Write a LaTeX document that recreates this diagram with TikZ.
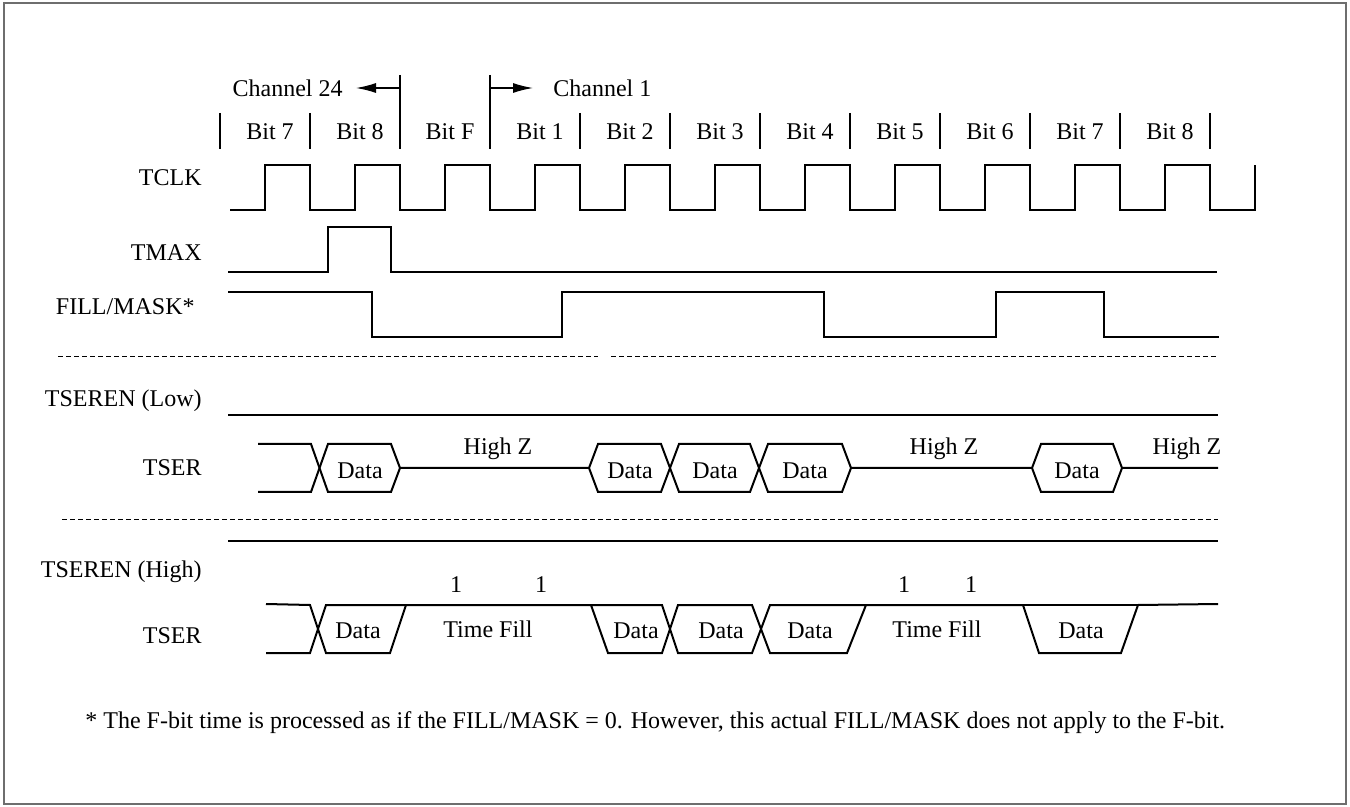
\documentclass[tikz,border=0pt]{standalone}
\usepackage{fontspec}
\setmainfont{Liberation Serif}
\usetikzlibrary{arrows.meta,positioning,calc}
\definecolor{framegray}{RGB}{110,110,110}
\tikzset{
  wave/.style={line width=1pt,line join=miter},
  bittick/.style={line width=0.7pt},
  sepline/.style={line width=0.5pt,dash pattern=on 2.5pt off 1.5pt},
  siglabel/.style={anchor=base east,inner sep=0pt},
  wavetext/.style={anchor=base,inner sep=0pt},
  chanarrow/.style={-{Latex[length=10pt,width=5pt]},line width=0.7pt},
}

\begin{document}
\begin{tikzpicture}[x=0.5pt,y=-0.5pt,font=\fontsize{12}{14}\selectfont]
  \useasboundingbox (0,0) rectangle (1350,807);
  \draw[framegray,line width=1pt] (4,3) rectangle (1346,804);

  % bit slots and channel markers
  \foreach \x in {220,310,580,670,760,850,940,1030,1120,1210}
    \draw[bittick] (\x,113) -- (\x,149);
  \coordinate (fstart) at (400,88);
  \coordinate (fend) at (490,88);
  \draw[bittick] (400,75) -- (400,149);
  \draw[bittick] (490,75) -- (490,149);
  \foreach \t [count=\i from 0] in {Bit 7,Bit 8,Bit F,Bit 1,Bit 2,Bit 3,Bit 4,Bit 5,Bit 6,Bit 7,Bit 8}
    \node[wavetext] (bit\i) at (270+90*\i,140) {\t};
  \node[anchor=base east,inner sep=0pt] (ch24) at (343,97) {Channel 24};
  \node[anchor=base west,inner sep=0pt] (ch1) at (553,97) {Channel 1};
  \draw[chanarrow,shorten >=6.5pt] (fstart) -- (fstart -| ch24.east);
  \draw[chanarrow,shorten >=10pt] (fend) -- (fend -| ch1.west);

  % signal names
  \node[siglabel] (tclk) at (202,186) {TCLK};
  \node[siglabel] (tmax) at (202,261) {TMAX};
  \node[siglabel] (fillmask) at (195,315) {FILL/MASK*};
  \node[siglabel] (enlow) at (202,407) {TSEREN (Low)};
  \node[siglabel] (serlow) at (202,476) {TSER};
  \node[siglabel] (enhigh) at (202,577) {TSEREN (High)};
  \node[siglabel] (serhigh) at (202,643) {TSER};

  % TCLK, TMAX, FILL/MASK
  \draw[wave] (230,210) \foreach \x in {265,355,...,1165} {
      -- (\x,210) -- (\x,165) -- (\x+45,165) -- (\x+45,210)} -- (1255,210) -- (1255,165);
  \draw[wave] (228,272) -- (328,272) -- (328,227) -- (391,227) -- (391,272) -- (1217,272);
  \draw[wave] (228,292) -- (372,292) -- (372,337) -- (562,337) -- (562,292) -- (824,292)
    -- (824,337) -- (996,337) -- (996,292) -- (1104,292) -- (1104,337) -- (1219,337);

  \draw[sepline] (58,357) -- (598,357);
  \draw[sepline] (611,357) -- (1218,357);

  % TSEREN low
  \draw[wave] (228,415) -- (1218,415);
  \draw[wave] (258,444) -- (311,444) -- (328,492) -- (391,492) -- (400,468) -- (589,468)
    -- (598,444) -- (661,444) -- (679,492) -- (750,492) -- (768,444) -- (842,444)
    -- (851,468) -- (1032,468) -- (1041,492) -- (1113,492) -- (1122,468) -- (1218,468);
  \draw[wave] (258,492) -- (311,492) -- (328,444) -- (391,444) -- (400,468);
  \draw[wave] (589,468) -- (598,492) -- (661,492) -- (679,444) -- (750,444) -- (768,492)
    -- (842,492) -- (851,468);
  \draw[wave] (1032,468) -- (1041,444) -- (1113,444) -- (1122,468);
  \foreach \x [count=\i] in {360,630,715,805,1077}
    \node[wavetext] (dlow\i) at (\x,479) {Data};
  \foreach \x [count=\i] in {498,944,1187}
    \node[wavetext] (hz\i) at (\x,455) {High Z};

  \draw[sepline] (62,520) -- (1218,520);

  % TSEREN high
  \draw[wave] (228,541) -- (1218,541);
  \draw[wave] (266,604) -- (310,605) -- (326,653) -- (390,653) -- (406,605) -- (591,605)
    -- (608,653) -- (662,653) -- (678,605) -- (752,605) -- (770,653) -- (847,653)
    -- (866,605) -- (1023,605) -- (1039,653) -- (1121,653) -- (1138,605) -- (1218,604);
  \draw[wave] (266,653) -- (310,653) -- (326,605) -- (406,605);
  \draw[wave] (591,605) -- (662,605) -- (678,653) -- (752,653) -- (770,605) -- (866,605);
  \draw[wave] (1023,605) -- (1138,605);
  \foreach \x [count=\i] in {358,636,721,810,1081}
    \node[wavetext] (dhigh\i) at (\x,639) {Data};
  \node[wavetext] (fill1) at (488,637) {Time Fill};
  \node[wavetext] (fill2) at (937,637) {Time Fill};
  \foreach \x [count=\i] in {456,541,904,971}
    \node[wavetext] (one\i) at (\x,593) {1};

  \node[anchor=base west,inner sep=0pt] (note) at (85,728)
    {* The F-bit time is processed as if the FILL/MASK = 0. However, this actual FILL/MASK does not apply to the F-bit.};
\end{tikzpicture}
\end{document}
